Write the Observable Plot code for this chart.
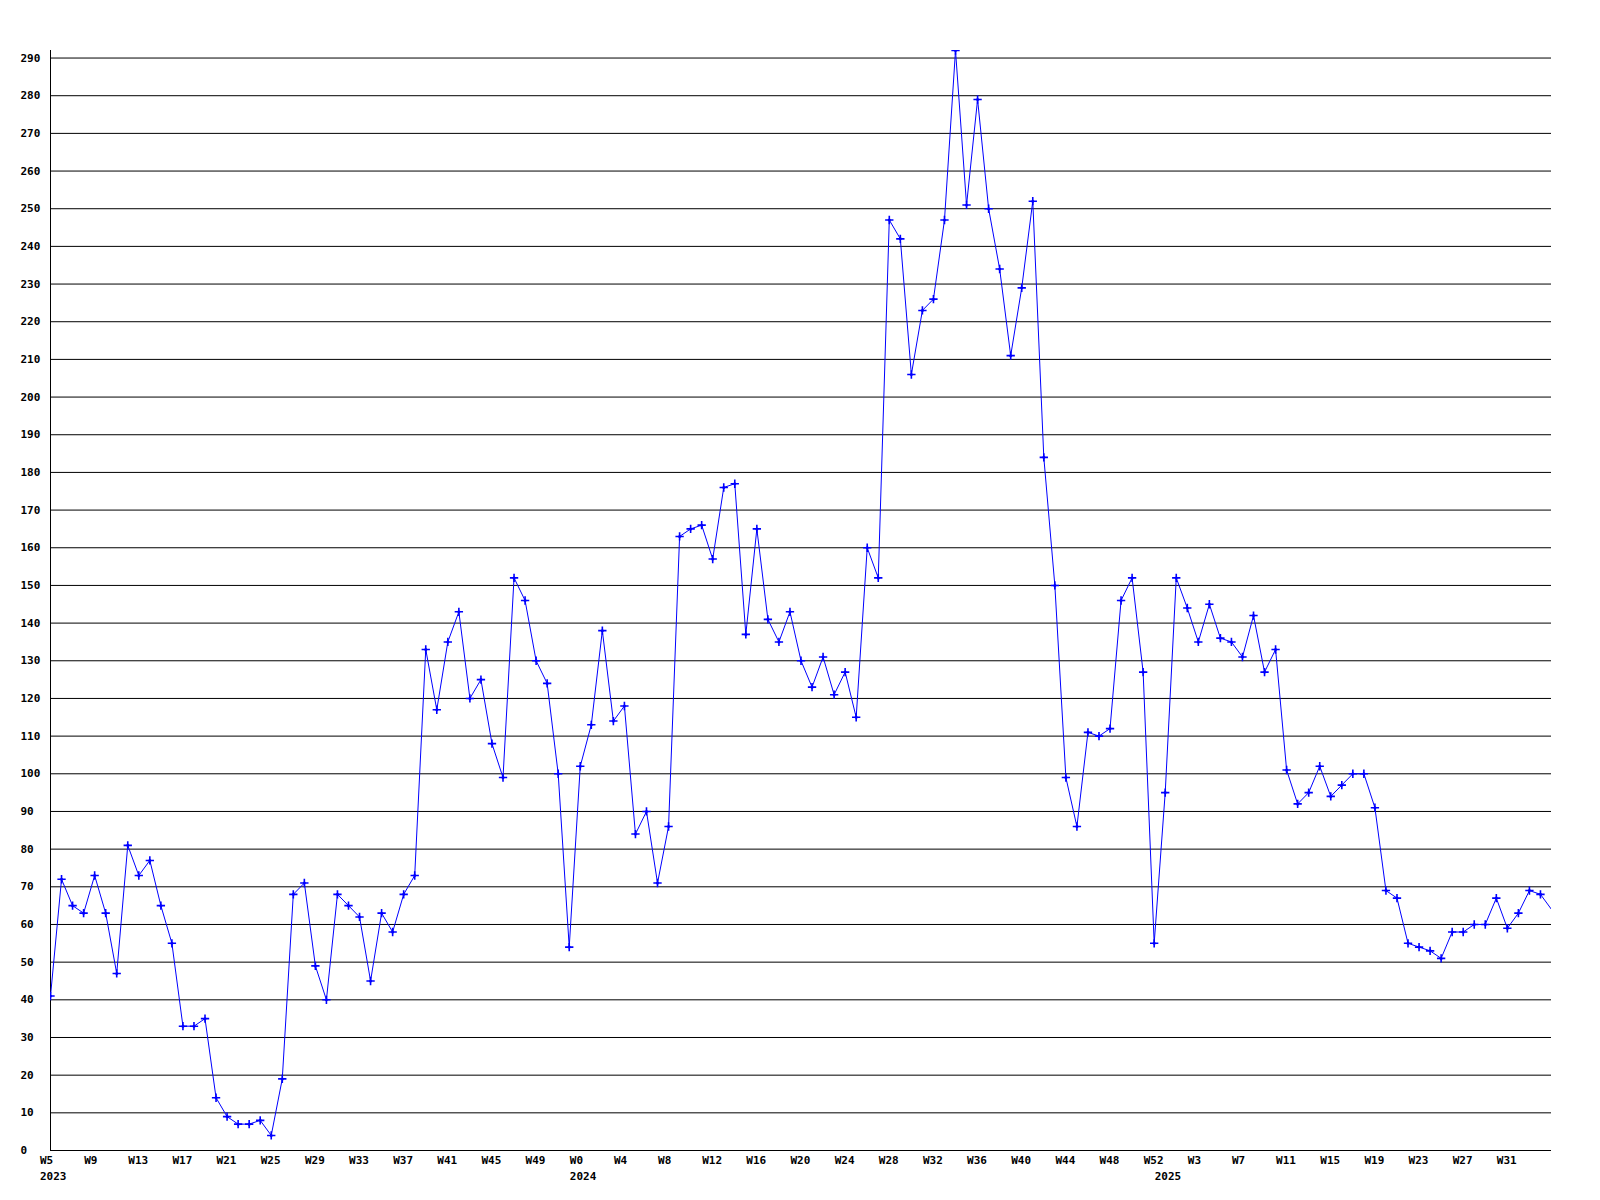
<!DOCTYPE html>
<html>
<head>
<meta charset="utf-8">
<script src="https://cdn.jsdelivr.net/npm/d3@7"></script>
<script src="https://cdn.jsdelivr.net/npm/@observablehq/plot@0.6"></script>
<style>
  html, body { margin: 0; padding: 0; background: #ffffff; }
</style>
</head>
<body>
<div id="chart"></div>
<script>
// ---- data ----
const years = [2023, 2024, 2025];
const firstWeek = [5, 0, 0];
const lastWeek = [52, 52, 35];

const values = [
  // 2023 W5 .. W52
  41, 72, 65, 63, 73, 63, 47, 81, 73, 77, 65, 55, 33, 33, 35, 14, 9, 7, 7, 8,
  4, 19, 68, 71, 49, 40, 68, 65, 62, 45, 63, 58, 68, 73, 133, 117, 135, 143, 120, 125,
  108, 99, 152, 146, 130, 124, 100, 54,
  // 2024 W0 .. W52
  102, 113, 138, 114, 118, 84, 90, 71, 86, 163, 165, 166, 157, 176, 177, 137, 165, 141, 135, 143,
  130, 123, 131, 121, 127, 115, 160, 152, 247, 242, 206, 223, 226, 247, 292, 251, 279, 250, 234, 211,
  229, 252, 184, 150, 99, 86, 111, 110, 112, 146, 152, 127, 55,
  // 2025 W0 .. W35
  95, 152, 144, 135, 145, 136, 135, 131, 142, 127, 133, 101, 92, 95, 102, 94, 97, 100, 100, 91,
  69, 67, 55, 54, 53, 51, 58, 58, 60, 60, 67, 59, 63, 69, 68, 64
];

const tickLabels = [
  "W5", "W9", "W13", "W17", "W21", "W25", "W29", "W33", "W37", "W41", "W45", "W49",
  "W0", "W4", "W8", "W12", "W16", "W20", "W24", "W28", "W32", "W36", "W40", "W44", "W48", "W52",
  "W3", "W7", "W11", "W15", "W19", "W23", "W27", "W31"
];
const yearLabels = ["2023", "2024", "2025"];
const yTicks = [0, 10, 20, 30, 40, 50, 60, 70, 80, 90, 100, 110, 120, 130, 140, 150, 160, 170, 180, 190,
  200, 210, 220, 230, 240, 250, 260, 270, 280, 290];

// ---- build table ----
const weeks = [];
years.forEach((y, k) => {
  for (let w = firstWeek[k]; w <= lastWeek[k]; w++) weeks.push({year: y, week: w});
});
const data = values.map((v, i) => ({i, v, year: weeks[i].year, week: weeks[i].week}));

const tickData = tickLabels.map(label => ({label, w: +label.slice(1)}));
let cursor = 0;
tickData.forEach(t => {
  while (cursor < data.length && data[cursor].week !== t.w) cursor++;
  t.i = data[cursor].i;
  cursor++;
});
const yearData = yearLabels.map((label, k) => {
  const row = data.find(d => d.year === +label && d.week === firstWeek[k]);
  return {label, i: row.i};
});

const xMax = 136.0;
const visible = data.filter(d => d.i < xMax);

const chart = Plot.plot({
  width: 1600,
  height: 1200,
  marginLeft: 50,
  marginRight: 49,
  marginTop: 50,
  marginBottom: 50,
  x: {domain: [0, xMax], axis: null},
  y: {domain: [0, 292], axis: null},
  style: {
    fontFamily: "'DejaVu Sans Mono', 'Liberation Mono', monospace",
    fontSize: "11px",
    fontWeight: "bold",
    background: "#ffffff",
    color: "#000000"
  },
  marks: [
    Plot.ruleY(yTicks, {stroke: "#000000", strokeWidth: 1}),
    Plot.ruleX([0], {stroke: "#000000", strokeWidth: 1}),
    Plot.text(yTicks, {y: d => d, text: d => String(d), frameAnchor: "left", dx: -30, textAnchor: "start", fill: "#000"}),
    Plot.text(tickData, {x: "i", text: "label", frameAnchor: "bottom", dy: 13, dx: -10.5, textAnchor: "start", fill: "#000"}),
    Plot.text(yearData, {x: "i", text: "label", frameAnchor: "bottom", dy: 29, dx: -10.5, textAnchor: "start", fill: "#000"}),
    Plot.line(data, {x: "i", y: "v", stroke: "#0000ff", strokeWidth: 1, clip: true}),
    Plot.dot(visible, {x: "i", y: "v", symbol: "plus", r: 2.8, stroke: "#0000ff", strokeWidth: 1.6, clip: true}),
    Plot.dot(visible, {x: "i", y: "v", r: 1.5, fill: "#0000ff", stroke: null, clip: true})
  ]
});
document.getElementById("chart").appendChild(chart);
</script>
</body>
</html>
